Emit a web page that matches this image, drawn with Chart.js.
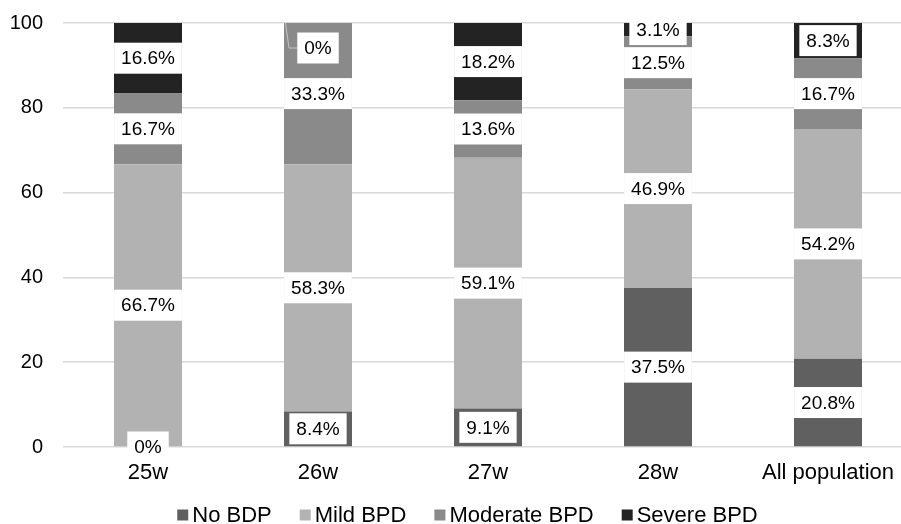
<!DOCTYPE html>
<html>
<head>
<meta charset="utf-8">
<script src="https://cdn.jsdelivr.net/npm/chart.js@4/dist/chart.umd.min.js"></script>
<style>
  html, body { margin: 0; padding: 0; background: #fff; overflow: hidden; }
  #wrap { width: 901px; height: 524px; overflow: hidden; position: relative; }
  #inner { position: absolute; left: 0; top: 0; width: 913px; height: 524px; }
</style>
</head>
<body>
<div id="wrap"><div id="inner"><canvas id="c" width="913" height="524"></canvas></div></div>
<script>
// BPD severity by gestational age (percent of infants in each group)
const categories = ['25w', '26w', '27w', '28w', 'All population'];
const noBdp       = [0, 8.4, 9.1, 37.5, 20.8];
const mildBpd     = [66.7, 58.3, 59.1, 46.9, 54.2];
const moderateBpd = [16.7, 33.3, 13.6, 12.5, 16.7];
const severeBpd   = [16.6, 0, 18.2, 3.1, 8.3];
const seriesNames = ['No BDP', 'Mild BPD', 'Moderate BPD', 'Severe BPD'];
const yTicks = [0, 20, 40, 60, 80, 100];

const colors = ['#606060', '#b2b2b2', '#8a8a8a', '#232323'];
const FONT = '"Liberation Sans", Arial, Helvetica, sans-serif';

// White boxed percentage labels centred on each segment
const valueLabels = {
  id: 'valueLabels',
  afterDatasetsDraw(chart) {
    const ctx = chart.ctx;
    ctx.save();
    ctx.font = '19px ' + FONT;
    ctx.textAlign = 'center';
    ctx.textBaseline = 'middle';
    const n = chart.data.datasets.length;
    chart.data.datasets.forEach((ds, di) => {
      const meta = chart.getDatasetMeta(di);
      meta.data.forEach((bar, j) => {
        const v = ds.data[j];
        const text = v === 0 ? '0%' : v.toFixed(1) + '%';
        const cx = bar.x;
        let cy = (bar.y + bar.base) / 2;
        const w = ctx.measureText(text).width + 14;
        const h = 31;
        let leader = null;
        // an empty segment on top of the stack gets its label pulled inside with a leader line
        if (v === 0 && di === n - 1) {
          const left = bar.x - bar.width / 2;
          cy = bar.y + 25;
          leader = [[left + 1.5, bar.y], [left + 5, cy], [cx - w / 2, cy]];
        }
        if (leader) {
          ctx.strokeStyle = '#c4c4c4';
          ctx.lineWidth = 1;
          ctx.beginPath();
          ctx.moveTo(leader[0][0], leader[0][1]);
          ctx.lineTo(leader[1][0], leader[1][1]);
          ctx.lineTo(leader[2][0], leader[2][1]);
          ctx.stroke();
        }
        ctx.fillStyle = '#ffffff';
        ctx.fillRect(cx - w / 2, cy - h / 2, w, h);
        ctx.fillStyle = '#000000';
        ctx.fillText(text, cx, cy + 1);
      });
    });
    ctx.restore();
  }
};

// Legend row under the axis: small squares followed by the series names
const bottomLegend = {
  id: 'bottomLegend',
  afterDraw(chart) {
    const ctx = chart.ctx;
    ctx.save();
    ctx.font = '22px ' + FONT;
    ctx.textBaseline = 'middle';
    ctx.textAlign = 'left';
    const box = 11, gapText = 4, gapItem = 28, cy = 515;
    const items = chart.data.datasets.map(ds => ({
      label: ds.label, color: ds.backgroundColor, w: ctx.measureText(ds.label).width
    }));
    const total = items.reduce((s, it) => s + box + gapText + it.w, 0) + gapItem * (items.length - 1);
    let x = 467.5 - total / 2;
    items.forEach(it => {
      ctx.fillStyle = it.color;
      ctx.fillRect(x, cy - box / 2, box, box);
      x += box + gapText;
      ctx.fillStyle = '#000000';
      ctx.fillText(it.label, x, cy + 1);
      x += it.w + gapItem;
    });
    ctx.restore();
  }
};

const seriesValues = [noBdp, mildBpd, moderateBpd, severeBpd];

new Chart(document.getElementById('c'), {
  type: 'bar',
  data: {
    labels: categories,
    datasets: seriesNames.map((name, i) => ({
      label: name,
      data: seriesValues[i],
      backgroundColor: colors[i],
      borderWidth: 0,
      barPercentage: 0.4,
      categoryPercentage: 1.0
    }))
  },
  options: {
    responsive: false,
    animation: false,
    layout: { padding: { top: 23, right: 0, bottom: 0, left: 0 } },
    plugins: {
      legend: { display: false },
      tooltip: { enabled: false }
    },
    scales: {
      x: {
        stacked: true,
        grid: { display: false, drawTicks: false },
        border: { display: false },
        ticks: { color: '#000', font: { size: 22, family: FONT }, padding: 13 },
        afterFit: s => { s.height = 77; }
      },
      y: {
        stacked: true,
        min: 0,
        max: 100,
        grid: { color: '#d9d9d9', lineWidth: 1.5, drawTicks: false },
        border: { display: false },
        ticks: { color: '#000', font: { size: 20, family: FONT }, padding: 20 },
        afterBuildTicks: s => { s.ticks = yTicks.map(v => ({ value: v })); },
        afterFit: s => { s.width = 63; s.paddingTop = 0; s.paddingBottom = 0; }
      }
    }
  },
  plugins: [valueLabels, bottomLegend]
});
</script>
</body>
</html>
